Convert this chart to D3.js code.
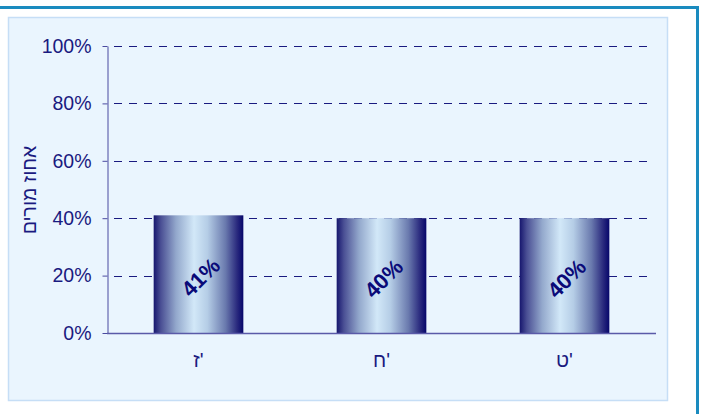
<!DOCTYPE html>
<html><head><meta charset="utf-8">
<script src="https://cdn.jsdelivr.net/npm/d3@7"></script>
<style>body{margin:0;background:#fff;}svg{display:block;font-family:Arial,"Liberation Sans",sans-serif;}</style>
</head><body>
<svg id="c" width="704" height="414"></svg>
<script>
const categories = ["ז'", "ח'", "ט'"];
const values = [0.41, 0.40, 0.40];
const valueLabels = ["41%", "40%", "40%"];
const yTicks = [0, 0.2, 0.4, 0.6, 0.8, 1.0];
const yTitle = "אחוז מורים";

const svg = d3.select("#c");
const navy = "#1a1a80";
// outer frame
svg.append("line").attr("x1",0).attr("x2",699).attr("y1",7.5).attr("y2",7.5).attr("stroke","#1a8bbf").attr("stroke-width",3);
svg.append("line").attr("x1",697.5).attr("x2",697.5).attr("y1",6).attr("y2",414).attr("stroke","#1a8bbf").attr("stroke-width",3);
// panel
svg.append("rect").attr("x",8.5).attr("y",17.5).attr("width",659).attr("height",383).attr("fill","#eaf5fe").attr("stroke","#c6def6").attr("stroke-width",1.5);

const x0=107, x1=656, y0=333, yTop=46;
const x = d3.scaleBand().domain(categories).range([x0,x1]).paddingInner(0.51).paddingOuter(0.255);
const y = d3.scaleLinear().domain([0,1]).range([y0,yTop]);

const defs = svg.append("defs");
const g = defs.append("linearGradient").attr("id","bg").attr("x1","0").attr("x2","1").attr("y1","0").attr("y2","0");
[[0,"#16166e"],[0.08,"#4a4f94"],[0.25,"#93a8cc"],[0.45,"#d2e8f8"],[0.6,"#b5cde6"],[0.8,"#6a7aae"],[0.93,"#2a2a7e"],[1,"#06066a"]].forEach(([o,c])=>g.append("stop").attr("offset",o).attr("stop-color",c));

// gridlines
svg.append("g").selectAll("line").data(yTicks.filter(d=>d>0)).join("line")
  .attr("x1",x0).attr("x2",654).attr("y1",d=>Math.round(y(d))+0.5).attr("y2",d=>Math.round(y(d))+0.5)
  .attr("stroke",navy).attr("stroke-width",1).attr("stroke-dasharray","8,7").attr("stroke-dashoffset",-7);

// y axis
const ya = svg.append("g").attr("transform",`translate(${x0+0.5},0)`).call(d3.axisLeft(y).tickValues(yTicks).tickFormat(d3.format(".0%")).tickSize(5).tickSizeOuter(0));
ya.select(".domain").attr("stroke","#4a4aa0");
ya.selectAll(".tick line").attr("stroke","#4a4aa0");
ya.selectAll(".tick text").attr("fill",navy).attr("font-size",19.5).attr("font-family","Arial, Liberation Sans").attr("x",-16);

// bars
svg.append("g").selectAll("rect").data(values).join("rect")
  .attr("x",(d,i)=>x(categories[i])).attr("width",x.bandwidth())
  .attr("y",d=>y(d)).attr("height",d=>y0-y(d)).attr("fill","url(#bg)");

// x axis baseline
svg.append("line").attr("x1",x0).attr("x2",x1).attr("y1",y0+0.5).attr("y2",y0+0.5).attr("stroke","#5a5aa8").attr("stroke-width",1.5);

// x labels
svg.append("g").selectAll("text").data(categories).join("text")
  .attr("x",d=>x(d)+x.bandwidth()/2).attr("y",367).attr("text-anchor","middle")
  .attr("fill",navy).attr("font-size",20).text(d=>d);

// value labels
svg.append("g").selectAll("text").data(values).join("text")
  .attr("transform",(d,i)=>`translate(${x(categories[i])+x.bandwidth()/2+2},${(y(d)+y0)/2+3}) rotate(-45)`)
  .attr("text-anchor","middle").attr("dy","0.35em").attr("font-weight","bold").attr("font-size",22)
  .attr("fill","#0a0a78").text((d,i)=>valueLabels[i]);

// y title
svg.append("text").attr("transform","translate(29,190) rotate(-90)").attr("text-anchor","middle")
  .attr("dy","0.35em").attr("fill",navy).attr("font-size",19.5).text(yTitle);
</script>
</body></html>
